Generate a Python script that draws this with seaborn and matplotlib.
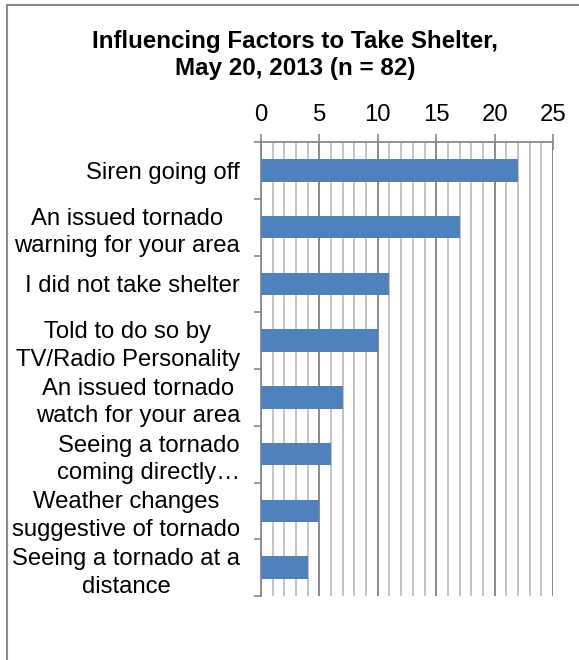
import matplotlib
matplotlib.use("Agg")
import matplotlib.pyplot as plt
import seaborn as sns
import pandas as pd
from matplotlib.patches import Rectangle
from matplotlib.ticker import MultipleLocator, FixedLocator

sns.set_theme(style="white")
plt.rcParams["font.family"] = ["Liberation Sans", "DejaVu Sans"]

factors = [
    "Siren going off",
    "An issued tornado\nwarning for your area",
    "I did not take shelter",
    "Told to do so by\nTV/Radio Personality",
    "An issued tornado\nwatch for your area",
    "Seeing a tornado\ncoming directly…",
    "Weather changes\nsuggestive of tornado",
    "Seeing a tornado at a\ndistance",
]
counts = [22, 17, 11, 10, 7, 6, 5, 4]
x_ticks = [0, 5, 10, 15, 20, 25]

df = pd.DataFrame({"factor": factors, "count": counts})

fig = plt.figure(figsize=(5.79, 6.6), dpi=100)
ax = fig.add_axes([261 / 579, 1 - 596 / 660, (553 - 261) / 579, (596 - 142) / 660])

sns.barplot(data=df, x="count", y="factor", orient="h", color="#4F81BD",
            saturation=1, width=0.4, linewidth=0, ax=ax, zorder=3)

ax.set_xlim(0, 25)
ax.set_ylim(len(factors) - 0.5, -0.5)
ax.set_xlabel("")
ax.set_ylabel("")

# value axis on top with major/minor vertical gridlines
ax.xaxis.tick_top()
ax.set_xticks(x_ticks)
ax.xaxis.set_minor_locator(MultipleLocator(1))
ax.grid(True, axis="x", which="minor", color="#C4C4C4", linewidth=1.4, zorder=1)
ax.grid(True, axis="x", which="major", color="#8A8A8A", linewidth=1.4, zorder=1)
ax.set_axisbelow(True)
ax.tick_params(axis="x", which="major", direction="inout", length=11, width=1.2,
               color="#8A8A8A", labelsize=17.2, pad=6, labelcolor="black")
ax.tick_params(axis="x", which="minor", length=0)

# category labels at centres, separator ticks at boundaries
ax.set_yticks(range(len(factors)))
ax.set_yticklabels(factors, multialignment="center", linespacing=1.32)
ax.yaxis.set_minor_locator(FixedLocator([i - 0.5 for i in range(len(factors) + 1)]))
ax.tick_params(axis="y", which="major", length=0, pad=15, labelsize=17.2, labelcolor="black")
ax.tick_params(axis="y", which="minor", left=True, direction="out", length=5,
               width=1.2, color="#8A8A8A")

for side in ["right", "bottom"]:
    ax.spines[side].set_visible(False)
for side in ["top", "left"]:
    ax.spines[side].set_color("#8A8A8A")
    ax.spines[side].set_linewidth(1.3)

fig.text(0.51, 1 - 55 / 660, "Influencing Factors to Take Shelter,\nMay 20, 2013 (n = 82)",
         ha="center", va="center", fontsize=17.4, fontweight="bold", color="black",
         multialignment="center", linespacing=1.26)

# chart frame
fig.patches.append(Rectangle((7 / 579, -0.1), 1.2, 1 - 5 / 660 + 0.1,
                             transform=fig.transFigure, fill=False,
                             edgecolor="#8A8A8A", linewidth=1.5))

fig.savefig("out.png", dpi=100)
